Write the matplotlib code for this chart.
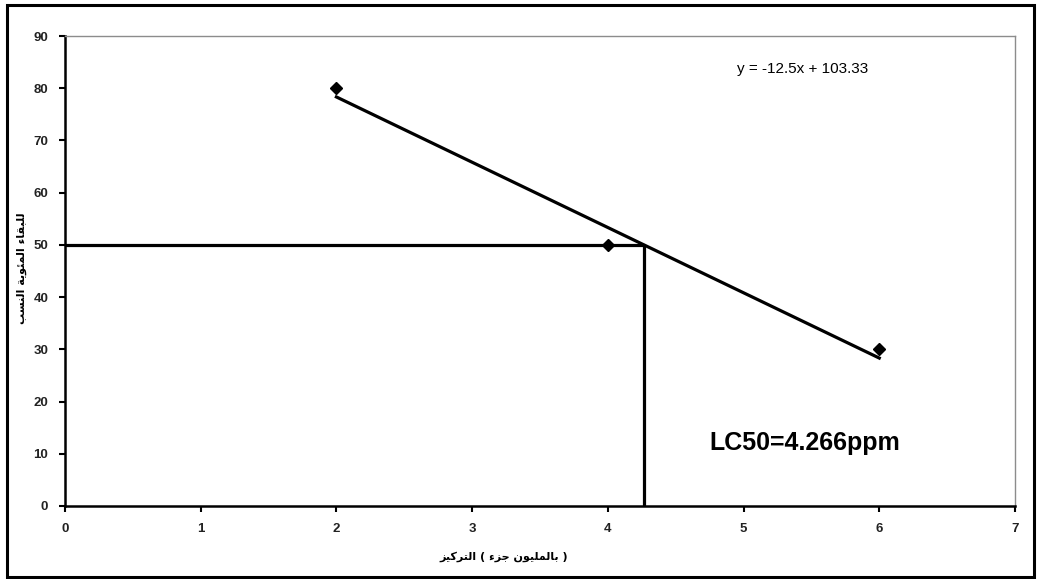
"""Survival percentage vs. concentration with linear fit and LC50 read-off."""
import unicodedata

import numpy as np
import matplotlib

matplotlib.use("Agg")
import matplotlib.pyplot as plt  # noqa: E402
from matplotlib.patches import Rectangle  # noqa: E402

conc_ppm = [2, 4, 6]
survival_pct = [80, 50, 30]
x_ticks = [0, 1, 2, 3, 4, 5, 6, 7]
y_ticks = [0, 10, 20, 30, 40, 50, 60, 70, 80, 90]
x_label = "التركيز ( جزء بالمليون )"
y_label = "النسب المئوية للبقاء"
target_pct = 50


def _form(ch, kind):
    try:
        return unicodedata.lookup(unicodedata.name(ch) + " " + kind + " FORM")
    except (KeyError, ValueError):
        return None


def shape_word(word):
    """Pick contextual Arabic presentation forms and lay the word out visually."""
    out = []
    n = len(word)
    for i, ch in enumerate(word):
        back = i > 0 and _form(word[i - 1], "INITIAL") and _form(ch, "FINAL")
        fwd = i < n - 1 and _form(ch, "INITIAL") and _form(word[i + 1], "FINAL")
        kind = {(True, True): "MEDIAL", (True, False): "FINAL",
                (False, True): "INITIAL", (False, False): "ISOLATED"}[(bool(back), bool(fwd))]
        out.append(_form(ch, kind) or ch)
    return "".join(reversed(out))


def shape(text):
    return " ".join(shape_word(w) for w in text.split(" "))


plt.rcParams["font.family"] = ["Liberation Sans", "DejaVu Sans"]

slope, intercept = np.polyfit(conc_ppm, survival_pct, 1)
slope, intercept = round(slope, 2), round(intercept, 2)
lc50 = (target_pct - intercept) / slope

fig = plt.figure(figsize=(10.38, 5.79), dpi=100)
fig.patches.append(Rectangle((0.0067, 0.004), 0.9893, 0.987, transform=fig.transFigure,
                             fill=False, edgecolor="black", linewidth=2.2))

ax = fig.add_axes([0.0626, 0.1261, 0.9152, 0.8117])
ax.set_xlim(0, 7)
ax.set_ylim(0, 90)

# read-off lines for 50 % survival
ax.plot([0, lc50], [target_pct, target_pct], color="black", lw=2.3, solid_capstyle="butt")
ax.plot([lc50, lc50], [0, target_pct], color="black", lw=2.3, solid_capstyle="butt")

fit_x = np.array([min(conc_ppm), max(conc_ppm)])
ax.plot(fit_x, slope * fit_x + intercept, color="black", lw=2.3)
ax.plot(conc_ppm, survival_pct, linestyle="none", marker="D", markersize=6,
        color="black")

ax.text(0.777, 0.93, f"y = {slope:g}x + {intercept:.2f}", transform=ax.transAxes,
        ha="center", va="center", fontsize=11)
ax.text(0.779, 0.134, f"LC50={int(lc50 * 1000) / 1000:.3f}ppm", transform=ax.transAxes,
        ha="center", va="center", fontsize=18, fontweight="bold")

ax.set_xticks(x_ticks)
ax.set_yticks(y_ticks)
tick_font = {"family": ["Liberation Sans Narrow", "Liberation Sans"], "size": 9.5,
             "weight": "bold"}
ax.set_xticklabels([str(t) for t in x_ticks], fontdict=tick_font, color="#222222")
ax.set_yticklabels([str(t) for t in y_ticks], fontdict=tick_font, color="#222222")
ax.tick_params(direction="out", length=4, width=1.5, pad=8, color="black")

for side in ("left", "bottom"):
    ax.spines[side].set_linewidth(1.8)
for side in ("top", "right"):
    ax.spines[side].set_color("#8c8c8c")
    ax.spines[side].set_linewidth(1.0)

fig.text(0.485, 0.038, shape(x_label), ha="center", va="center", fontsize=8,
         fontweight="bold", family="DejaVu Sans")
fig.text(0.021, 0.537, shape(y_label), ha="center", va="center", fontsize=8,
         fontweight="bold", family="DejaVu Sans", rotation=90)

fig.savefig("out.png", dpi=100)
